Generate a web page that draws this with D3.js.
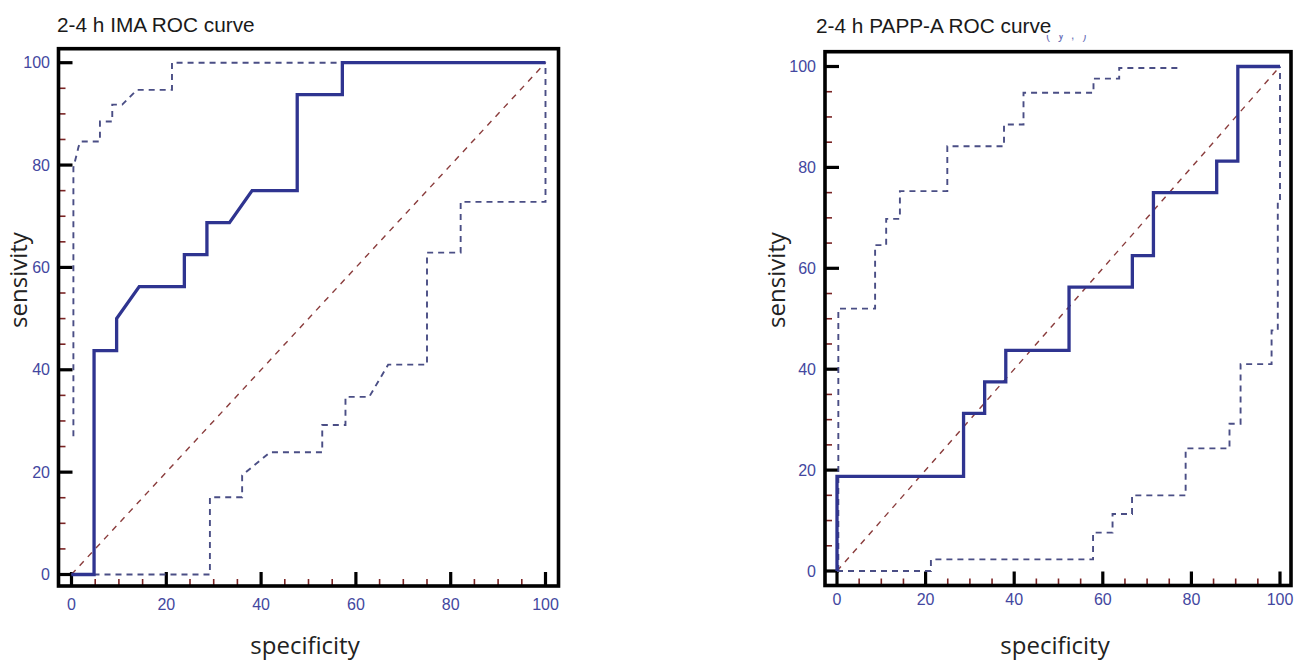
<!DOCTYPE html>
<html>
<head>
<meta charset="utf-8">
<script src="https://cdn.jsdelivr.net/npm/d3@7"></script>
<style>
  html, body { margin: 0; padding: 0; background: #fff; }
  svg { display: block; }
</style>
</head>
<body>
<svg id="chart" width="1300" height="662"></svg>
<script>
// ---------------- DATA ----------------
const titles = ["2-4 h IMA ROC curve", "2-4 h PAPP-A ROC curve"];
const xLabel = "specificity";
const yLabel = "sensivity";
const majorTicks = [0, 20, 40, 60, 80, 100];
const minorTicks = [5, 10, 15, 25, 30, 35, 45, 50, 55, 65, 70, 75, 85, 90, 95];
const diagX = [0, 100];
const diagY = [0, 100];

// IMA (left panel)
const imaRocX = [0, 4.76, 4.76, 9.52, 9.52, 14.29, 23.81, 23.81, 28.57, 28.57, 33.33, 38.1, 47.62, 47.62, 57.14, 57.14, 100];
const imaRocY = [0, 0, 43.75, 43.75, 50, 56.25, 56.25, 62.5, 62.5, 68.75, 68.75, 75, 75, 93.75, 93.75, 100, 100];
const imaUpperX = [0.4, 0.4, 1.5, 1.9, 6.0, 6.0, 8.6, 8.6, 10.7, 13.8, 21.2, 21.2, 100];
const imaUpperY = [27, 79.5, 83.6, 84.6, 84.6, 88.5, 88.5, 91.8, 91.8, 94.7, 94.7, 100, 100];
const imaLowerX = [0, 29.2, 29.2, 36.0, 36.0, 41.9, 52.9, 52.9, 57.8, 57.8, 62.8, 66.8, 75.0, 75.0, 82.1, 82.1, 100, 100];
const imaLowerY = [0, 0, 15.1, 15.1, 19.4, 23.9, 23.9, 29.2, 29.2, 34.7, 34.7, 41.0, 41.0, 62.9, 62.9, 72.8, 72.8, 100];

// PAPP-A (right panel)
const pappRocX = [0, 0, 28.57, 28.57, 33.33, 33.33, 38.1, 38.1, 52.38, 52.38, 66.67, 66.67, 71.43, 71.43, 85.71, 85.71, 90.48, 90.48, 100];
const pappRocY = [0, 18.75, 18.75, 31.25, 31.25, 37.5, 37.5, 43.75, 43.75, 56.25, 56.25, 62.5, 62.5, 75, 75, 81.25, 81.25, 100, 100];
const pappUpperX = [0.3, 0.3, 8.6, 8.6, 11.1, 11.1, 14.2, 14.2, 24.9, 24.9, 37.7, 37.7, 42.1, 42.1, 57.9, 57.9, 63.7, 63.7, 77.6];
const pappUpperY = [0, 52, 52, 64.6, 64.6, 69.8, 69.8, 75.3, 75.3, 84.2, 84.2, 88.5, 88.5, 94.8, 94.8, 97.6, 97.6, 99.7, 99.7];
const pappLowerX = [0, 21.2, 21.2, 57.8, 57.8, 62.2, 62.2, 66.6, 66.6, 78.7, 78.7, 88.6, 88.6, 91.1, 91.1, 98.1, 98.1, 99.5, 99.5, 100, 100];
const pappLowerY = [0, 0, 2.3, 2.3, 7.6, 7.6, 11.3, 11.3, 15.0, 15.0, 24.3, 24.3, 29.2, 29.2, 41.0, 41.0, 47.7, 47.7, 72.8, 72.8, 100];

// ---------------- LAYOUT ----------------
const panels = [
  { title: titles[0], titleX: 57, titleY: 32,
    frame: { l: 58.5, r: 558.5, t: 48.7, b: 586 },
    xr: [71.5, 545.5], yr: [574.5, 62.7],
    yLabX: 50, xLabY: 610, axLabX: 305, axLabYx: 27,
    roc: [imaRocX, imaRocY], up: [imaUpperX, imaUpperY], lo: [imaLowerX, imaLowerY] },
  { title: titles[1], titleX: 816, titleY: 33,
    frame: { l: 825, r: 1291, t: 51.7, b: 585.5 },
    xr: [837, 1280], yr: [571, 66.5],
    yLabX: 816, xLabY: 605, axLabX: 1055, axLabYx: 785,
    roc: [pappRocX, pappRocY], up: [pappUpperX, pappUpperY], lo: [pappLowerX, pappLowerY] }
];

const svg = d3.select("#chart");
const zip = (xs, ys) => xs.map((v, i) => [v, ys[i]]);

const C = {
  frame: "#000",
  major: "#000",
  minor: "#7a2424",
  label: "#4347a0",
  roc: "#2f3490",
  ci: "#4a4e85",
  diag: "#8a3c3c",
  text: "#222"
};

panels.forEach(p => {
  const x = d3.scaleLinear().domain([0, 100]).range(p.xr);
  const y = d3.scaleLinear().domain([0, 100]).range(p.yr);
  const g = svg.append("g");
  const line = d3.line().x(d => x(d[0])).y(d => y(d[1]));

  // title
  g.append("text").attr("x", p.titleX).attr("y", p.titleY)
    .attr("font-family", "'Liberation Sans', Arial, sans-serif")
    .attr("font-size", 20.8).attr("fill", "#1a1a1a").text(p.title);

  // minor ticks x (bottom, upwards)
  g.selectAll(".mnx").data(minorTicks).join("line")
    .attr("x1", d => x(d)).attr("x2", d => x(d))
    .attr("y1", p.frame.b).attr("y2", p.frame.b - 7)
    .attr("stroke", C.minor).attr("stroke-width", 1.6);
  // minor ticks y (left, rightwards)
  g.selectAll(".mny").data(minorTicks).join("line")
    .attr("y1", d => y(d)).attr("y2", d => y(d))
    .attr("x1", p.frame.l).attr("x2", p.frame.l + 7)
    .attr("stroke", C.minor).attr("stroke-width", 1.6);
  // major ticks
  g.selectAll(".mjx").data(majorTicks).join("line")
    .attr("x1", d => x(d)).attr("x2", d => x(d))
    .attr("y1", p.frame.b).attr("y2", p.frame.b - 14)
    .attr("stroke", C.major).attr("stroke-width", 3.2);
  g.selectAll(".mjy").data(majorTicks).join("line")
    .attr("y1", d => y(d)).attr("y2", d => y(d))
    .attr("x1", p.frame.l).attr("x2", p.frame.l + 14)
    .attr("stroke", C.major).attr("stroke-width", 3.2);

  // tick labels
  g.selectAll(".lx").data(majorTicks).join("text")
    .attr("x", d => x(d)).attr("y", p.xLabY)
    .attr("text-anchor", "middle")
    .attr("font-family", "'Liberation Sans', Arial, sans-serif")
    .attr("font-size", 16).attr("fill", C.label).text(d => d);
  g.selectAll(".ly").data(majorTicks).join("text")
    .attr("x", p.yLabX).attr("y", d => y(d) + 5.5)
    .attr("text-anchor", "end")
    .attr("font-family", "'Liberation Sans', Arial, sans-serif")
    .attr("font-size", 16).attr("fill", C.label).text(d => d);

  // axis titles
  g.append("text").attr("x", p.axLabX).attr("y", 654)
    .attr("text-anchor", "middle")
    .attr("font-family", "'Open Sans', sans-serif")
    .attr("font-size", 24).attr("fill", C.text).text(xLabel);
  g.append("text")
    .attr("transform", `translate(${p.axLabYx},280) rotate(-90)`)
    .attr("text-anchor", "middle")
    .attr("font-family", "'Open Sans', sans-serif")
    .attr("font-size", 24).attr("fill", C.text).text(yLabel);

  // diagonal
  g.append("path").datum(zip(diagX, diagY)).attr("d", line)
    .attr("fill", "none").attr("stroke", C.diag)
    .attr("stroke-width", 1.4).attr("stroke-dasharray", "6,6");
  // CI
  [p.up, p.lo].forEach(s => {
    g.append("path").datum(zip(s[0], s[1])).attr("d", line)
      .attr("fill", "none").attr("stroke", C.ci)
      .attr("stroke-width", 1.9).attr("stroke-dasharray", "6,5");
  });
  // ROC
  g.append("path").datum(zip(p.roc[0], p.roc[1])).attr("d", line)
    .attr("fill", "none").attr("stroke", C.roc)
    .attr("stroke-width", 3.3).attr("stroke-linejoin", "miter");

  // frame
  g.append("rect")
    .attr("x", p.frame.l).attr("y", p.frame.t)
    .attr("width", p.frame.r - p.frame.l).attr("height", p.frame.b - p.frame.t)
    .attr("fill", "none").attr("stroke", C.frame).attr("stroke-width", 3.6);
});

// partially hidden text fragment above right panel
const defs = svg.append("defs");
defs.append("clipPath").attr("id", "fragClip")
  .append("rect").attr("x", 1040).attr("y", 35).attr("width", 70).attr("height", 7);
svg.append("text").attr("clip-path", "url(#fragClip)")
  .attr("x", 1046).attr("y", 39)
  .attr("font-family", "'Liberation Sans', Arial, sans-serif")
  .attr("font-size", 12).attr("fill", "#6a70b8")
  .attr("letter-spacing", 8).text("(y,)");
</script>
</body>
</html>
